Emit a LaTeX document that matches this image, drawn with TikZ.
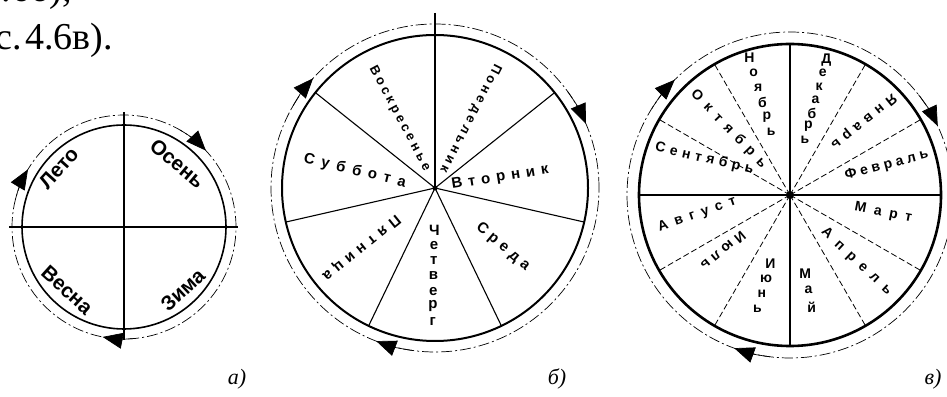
\documentclass[tikz,border=0pt]{standalone}
\usepackage{fontspec}
\setmainfont{Liberation Serif}
\newfontfamily\lblfont{Liberation Sans}
\usetikzlibrary{arrows.meta}

\tikzset{
  rim/.style={line width=1.6pt},
  ring/.style={line width=0.7pt, dash pattern=on 11pt off 3pt on 2pt off 3pt},
  ringtip/.style={-{Triangle[length=20pt,width=16pt]}, line width=0.7pt},
  spoke/.style={line width=1.1pt},
  dspoke/.style={line width=0.8pt, dash pattern=on 6pt off 3pt},
  season/.style={font=\lblfont\bfseries\fontsize{20.5}{20.5}\selectfont, inner sep=0pt},
  day/.style={font=\lblfont\bfseries\fontsize{15}{15}\selectfont\addfontfeature{LetterSpace=#1}, inner sep=0pt},
  day/.default=0,
  longday/.style={font=\lblfont\bfseries\fontsize{13}{13}\selectfont\addfontfeature{LetterSpace=#1}, inner sep=0pt},
  month/.style={font=\lblfont\bfseries\fontsize{14}{14}\selectfont\addfontfeature{LetterSpace=#1}, inner sep=0pt},
  month/.default=0,
  caption/.style={font=\itshape\fontsize{22}{22}\selectfont},
  pagetext/.style={anchor=base east, font=\fontsize{38}{38}\selectfont, inner sep=0pt}
}

\begin{document}
\begin{tikzpicture}[x=1pt,y=1pt]
  \useasboundingbox (0,0) rectangle (947,396);
  % text of the page above the figure
  \node[pagetext] (line1) at (72,394) {рис.\hspace{3pt}4.6б),};
  \node[pagetext] (line2) at (113,346) {рис.\hspace{3pt}4.6в).};

  % a) seasons
  \begin{scope}[shift={(124,169)}]
    \draw[rim] (0,0) circle[radius=102];
    \draw[line width=1.8pt] (0,115) -- (0,-113);
    \draw[line width=1.2pt] (-115,0) -- (114,0);
    \draw[ring] (0,0) circle[radius=112];
    \draw[ringtip] (166:112) arc[start angle=166, end angle=149, radius=112];
    \draw[ringtip] (60:112) arc[start angle=60, end angle=43, radius=112];
    \draw[ringtip] (276:112) arc[start angle=276, end angle=259, radius=112];
    \node[season, rotate=48] (leto) at (138:88) {Лето};
    \node[season, rotate=-40] (osen) at (50:83) {Осень};
    \node[season, rotate=-42] (vesna) at (228:85) {Весна};
    \node[season, rotate=43] (zima) at (-47:86) {Зима};
  \end{scope}
  \node[caption] (capa) at (237,17) {а)};

  % б) days of the week
  \begin{scope}[shift={(435,208)}]
    \draw[rim, line width=2pt] (0,0) circle[radius=153];
    \draw[ring] (0,0) circle[radius=164];
    \draw[spoke] (0,175) -- (0,0);
    \foreach \a in {38.57,-12.86,-64.29,-115.71,-167.14,141.43}
      \draw[spoke] (0,0) -- (\a:153);
    \fill (0,0) circle[radius=2.5];
    \draw[ringtip] (151:164) arc[start angle=151, end angle=138, radius=164];
    \draw[ringtip] (36:164) arc[start angle=36, end angle=23, radius=164];
    \draw[ringtip] (262:164) arc[start angle=262, end angle=249, radius=164];
    \node[longday=26, rotate=-117] (mon) at (63:78) {Понедельник};
    \node[day=40, rotate=9] (tue) at (9:66) {Вторник};
    \node[day=32, rotate=-40] (wed) at (-41:90) {Среда};
    \foreach \ch [count=\i] in {Ч,е,т,в,е,р,г}
      \node[day] (thu\i) at (-91:{26.7+15.3*\i}) {\ch};
    \node[day=36, rotate=-141] (fri) at (-141:95) {Пятница};
    \node[day=47, rotate=-13.5] (sat) at (168:82) {Суббота};
    \node[longday=26, rotate=-62] (sun) at (117:78) {Воскресенье};
  \end{scope}
  \node[caption] (capb) at (557,17) {б)};

  % в) months
  \begin{scope}[shift={(790,201)}]
    \draw[rim, line width=2.6pt] (0,0) circle[radius=151];
    \draw[ring] (0,0) circle[radius=163];
    \foreach \a in {30,60,120,150,210,240,300,330}
      \draw[dspoke] (0,0) -- (\a:151);
    \draw[line width=2.4pt] (0,151) -- (0,-151);
    \draw[line width=2.4pt] (-151,0) -- (151,0);
    \fill (0,0) circle[radius=4];
    \draw[ringtip] (148:163) arc[start angle=148, end angle=135, radius=163];
    \draw[ringtip] (38:163) arc[start angle=38, end angle=25, radius=163];
    \draw[ringtip] (263:163) arc[start angle=263, end angle=250, radius=163];
    \foreach \ch [count=\i] in {Д,е,к,а,б,р,ь}
      \node[month] (dec\i) at (75:{153.8-13.8*\i}) {\ch};
    \node[month=40, rotate=219] (jan) at (45:104) {Январь};
    \node[month=28, rotate=15] (feb) at (17:101) {Февраль};
    \node[month=55, rotate=-11] (mar) at (-11:95) {Март};
    \node[month=55, rotate=-43] (apr) at (-45:94) {Апрель};
    \foreach \ch [count=\i] in {М,а,й}
      \node[month] (may\i) at (-79:{63+17*\i}) {\ch};
    \foreach \ch [count=\i] in {И,ю,н,ь}
      \node[month] (jun\i) at (-106:{55.3+15.7*\i}) {\ch};
    \node[month=34, rotate=-140] (jul) at (-140:87) {Июль};
    \node[month=50, rotate=19] (aug) at (-168:95) {Август};
    \node[month=34, rotate=-13] (sep) at (157:93) {Сентябрь};
    \node[month=52, rotate=-46] (oct) at (133:90) {Октябрь};
    \foreach \ch [count=\i] in {Н,о,я,б,р,ь}
      \node[month] (nov\i) at (106.5:{158.4-15.4*\i}) {\ch};
  \end{scope}
  \node[caption] (capc) at (933,17) {в)};
\end{tikzpicture}
\end{document}
